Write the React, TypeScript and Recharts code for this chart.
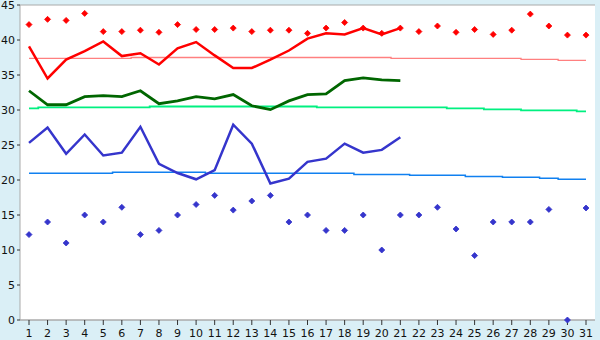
import React from "react";
import { ComposedChart, Line, XAxis, YAxis, CartesianGrid } from "recharts";

const days = Array.from({ length: 31 }, (_, i) => String(i + 1));
const yTicks = [0, 5, 10, 15, 20, 25, 30, 35, 40, 45];

const highPoints = [42.2, 42.95, 42.8, 43.8, 41.2, 41.2, 41.4, 41.1, 42.2, 41.5, 41.5, 41.7, 41.2, 41.4, 41.4, 40.95, 41.7, 42.5, 41.7, 40.95, 41.7, 41.2, 42.0, 41.1, 41.5, 40.8, 41.4, 43.7, 42.0, 40.7, 40.7];
const lowPoints = [12.2, 14, 11, 15, 14, 16.1, 12.2, 12.8, 15, 16.5, 17.8, 15.7, 17, 17.8, 14, 15, 12.8, 12.8, 15, 10, 15, 15, 16.1, 13, 9.2, 14, 14, 14, 15.8, 0, 16];

const redLine = [39.1, 34.5, 37.2, 38.4, 39.8, 37.7, 38.1, 36.5, 38.8, 39.7, 37.8, 36.0, 36.0, 37.2, 38.5, 40.2, 40.95, 40.8, 41.7, 40.8, 41.7];
const greenLine = [32.75, 30.75, 30.75, 31.9, 32.05, 31.9, 32.75, 30.9, 31.3, 31.9, 31.6, 32.2, 30.6, 30.05, 31.3, 32.2, 32.3, 34.2, 34.6, 34.3, 34.2];
const blueLine = [25.3, 27.5, 23.75, 26.5, 23.5, 23.9, 27.6, 22.3, 21.0, 20.1, 21.4, 27.9, 25.2, 19.5, 20.2, 22.6, 23.05, 25.2, 23.9, 24.3, 26.1];

const pinkNormal = [37.38, 37.38, 37.38, 37.38, 37.38, 37.38, 37.5, 37.5, 37.5, 37.5, 37.5, 37.5, 37.5, 37.5, 37.5, 37.5, 37.5, 37.5, 37.5, 37.5, 37.38, 37.38, 37.38, 37.38, 37.38, 37.38, 37.38, 37.24, 37.24, 37.1, 37.1];
const greenNormal = [30.24, 30.38, 30.38, 30.38, 30.38, 30.38, 30.38, 30.5, 30.5, 30.5, 30.5, 30.5, 30.5, 30.5, 30.5, 30.5, 30.38, 30.38, 30.38, 30.38, 30.38, 30.38, 30.38, 30.24, 30.24, 30.1, 30.1, 29.95, 29.95, 29.95, 29.8];
const blueNormal = [20.95, 20.95, 20.95, 20.95, 20.95, 21.1, 21.1, 21.1, 21.1, 21.1, 20.95, 20.95, 20.95, 20.95, 20.95, 20.95, 20.95, 20.95, 20.8, 20.8, 20.8, 20.67, 20.67, 20.67, 20.5, 20.5, 20.38, 20.38, 20.24, 20.1, 20.1];

const data = days.map((d, i) => ({
  day: d,
  hi: highPoints[i],
  lo: lowPoints[i],
  red: i < redLine.length ? redLine[i] : null,
  green: i < greenLine.length ? greenLine[i] : null,
  blue: i < blueLine.length ? blueLine[i] : null,
  pinkN: pinkNormal[i],
  greenN: greenNormal[i],
  blueN: blueNormal[i],
}));

const makeDiamond = (color: string) => (props: any) => {
  const { cx, cy, index } = props;
  if (cx == null || cy == null) return <g key={`e-${index}`} />;
  const r = 3;
  return (
    <path
      key={`d-${color}-${index}`}
      d={`M${cx},${cy - r} L${cx + r},${cy} L${cx},${cy + r} L${cx - r},${cy} Z`}
      fill={color}
      stroke={color}
      strokeWidth={0.8}
    />
  );
};

const tickStyle = { fontFamily: "DejaVu Sans", fontSize: 11, fill: "#111" };

export default function App() {
  return (
    <div style={{ position: "absolute", left: 0, top: 0, width: 600, height: 340, background: "#DAEFF6" }}>
      <ComposedChart width={600} height={340} data={data} margin={{ top: 5, right: 5, bottom: 0, left: 0 }}>
        <CartesianGrid vertical={false} stroke="#AAAAAA" fill="#FFFFFF" fillOpacity={1} />
        <XAxis
          dataKey="day"
          height={20}
          padding={{ left: 9, right: 9 }}
          interval={0}
          tickSize={5}
          tickMargin={4}
          tick={tickStyle}
          stroke="#AAAAAA"
          tickLine={{ stroke: "#333" }}
          axisLine={{ stroke: "#AAAAAA" }}
        />
        <YAxis
          yAxisId="left"
          width={20}
          domain={[0, 45]}
          ticks={yTicks}
          interval={0}
          tickSize={3}
          tickMargin={2}
          tick={tickStyle}
          tickLine={{ stroke: "#333" }}
          axisLine={{ stroke: "#AAAAAA" }}
        />
        <YAxis
          yAxisId="right"
          orientation="right"
          width={0}
          domain={[0, 45]}
          tick={false}
          tickLine={false}
          axisLine={{ stroke: "#AAAAAA" }}
        />
        <Line yAxisId="left" type="step" dataKey="pinkN" stroke="#FF8080" strokeWidth={1.3} dot={false} activeDot={false} isAnimationActive={false} />
        <Line yAxisId="left" type="step" dataKey="greenN" stroke="#00F080" strokeWidth={1.8} dot={false} activeDot={false} isAnimationActive={false} />
        <Line yAxisId="left" type="step" dataKey="blueN" stroke="#1080F0" strokeWidth={1.5} dot={false} activeDot={false} isAnimationActive={false} />
        <Line yAxisId="left" type="linear" dataKey="red" stroke="#FF0000" strokeWidth={2.5} dot={false} activeDot={false} isAnimationActive={false} />
        <Line yAxisId="left" type="linear" dataKey="green" stroke="#006600" strokeWidth={2.8} dot={false} activeDot={false} isAnimationActive={false} />
        <Line yAxisId="left" type="linear" dataKey="blue" stroke="#3535CC" strokeWidth={2.5} dot={false} activeDot={false} isAnimationActive={false} />
        <Line yAxisId="left" dataKey="hi" stroke="none" dot={makeDiamond("#FF0000")} activeDot={false} isAnimationActive={false} />
        <Line yAxisId="left" dataKey="lo" stroke="none" dot={makeDiamond("#3535CC")} activeDot={false} isAnimationActive={false} />
      </ComposedChart>
    </div>
  );
}
